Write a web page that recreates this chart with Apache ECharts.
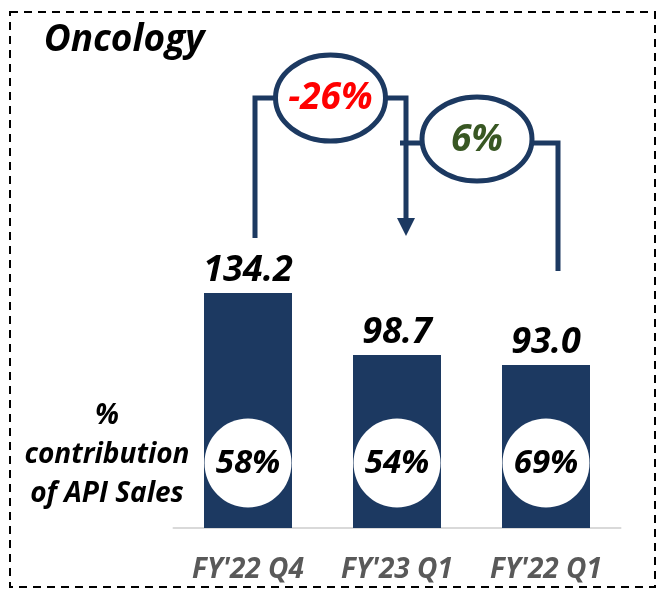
<!DOCTYPE html>
<html>
<head>
<meta charset="utf-8">
<script src="https://cdn.jsdelivr.net/npm/echarts@6/dist/echarts.min.js"></script>
<style>
html,body{margin:0;padding:0;background:#fff;}
#main{width:661px;height:590px;}
</style>
</head>
<body>
<div id="main"></div>
<script>
var categories = ["FY'22 Q4", "FY'23 Q1", "FY'22 Q1"];
var sales = [134.2, 98.7, 93.0];
var apiShare = ['58%', '54%', '69%'];
var changeLabels = ['-26%', '6%'];

var navy = '#1c3961';
var font = '"Open Sans", sans-serif';

var chart = echarts.init(document.getElementById('main'));
var option = {
    animation: false,
    grid: {left: 173.5, right: 40.5, top: 55, bottom: 62},
    xAxis: {
        type: 'category',
        data: categories,
        axisLine: {lineStyle: {color: '#d9d9d9', width: 2}},
        axisTick: {show: false},
        axisLabel: {
            margin: 28,
            color: '#595959',
            fontFamily: font,
            fontStyle: 'italic',
            fontWeight: 'bold',
            fontSize: 28
        }
    },
    yAxis: {
        type: 'value',
        min: 0,
        max: 270,
        show: false,
        splitLine: {show: false}
    },
    series: [{
        type: 'bar',
        data: sales,
        barWidth: 88,
        itemStyle: {color: navy},
        label: {
            show: true,
            position: 'top',
            distance: 4,
            formatter: function (p) { return p.value.toFixed(1); },
            color: '#000',
            fontFamily: font,
            fontStyle: 'italic',
            fontWeight: 'bold',
            fontSize: 36
        }
    }]
};
chart.setOption(option);

// annotations placed relative to the bars
var cx = categories.map(function (c) { return chart.convertToPixel({xAxisIndex: 0}, c); });
var txt = function (x, y, s, size, color) {
    return {
        type: 'text', x: x, y: y, z: 20,
        style: {
            text: s, fill: color, font: 'italic bold ' + size + 'px ' + font,
            align: 'center', verticalAlign: 'middle'
        }
    };
};
var g = [];
g.push({
    type: 'rect', z: 1,
    shape: {x: 10, y: 12, width: 645, height: 575},
    style: {fill: 'none', stroke: '#000', lineWidth: 2, lineDash: [8, 6]}
});
g.push(txt(124, 40, 'Oncology', 37, '#000'));
g.push(txt(107, 416, '%', 28, '#000'));
g.push(txt(107, 455, 'contribution', 28, '#000'));
g.push(txt(107, 494, 'of API Sales', 28, '#000'));

cx.forEach(function (x, i) {
    g.push({
        type: 'ellipse', z: 10,
        shape: {cx: x, cy: 463, rx: 43.5, ry: 44.5},
        style: {fill: '#fff'}
    });
    g.push(txt(x, 464, apiShare[i], 33, '#000'));
});

// -26% connector
var x1 = cx[0] + 7, x2 = cx[1] + 9, x3 = cx[2] + 12;
g.push({
    type: 'polyline', z: 5,
    shape: {points: [[x1, 238], [x1, 98], [x2, 98], [x2, 220]]},
    style: {stroke: navy, lineWidth: 5, fill: 'none'}
});
g.push({
    type: 'polygon', z: 5,
    shape: {points: [[x2 - 9, 218], [x2 + 9, 218], [x2, 236]]},
    style: {fill: navy}
});
g.push({
    type: 'ellipse', z: 8,
    shape: {cx: (x1 + x2) / 2, cy: 98, rx: 55, ry: 43},
    style: {fill: '#fff', stroke: navy, lineWidth: 5}
});
g.push(txt((x1 + x2) / 2, 98, changeLabels[0], 37, '#ff0000'));

// 6% connector
var e2 = (x2 + x3) / 2 - 5;
g.push({
    type: 'polyline', z: 5,
    shape: {points: [[x2 - 6, 143], [x3, 143], [x3, 271]]},
    style: {stroke: navy, lineWidth: 5, fill: 'none'}
});
g.push({
    type: 'ellipse', z: 8,
    shape: {cx: e2, cy: 139, rx: 55, ry: 42},
    style: {fill: '#fff', stroke: navy, lineWidth: 5}
});
g.push(txt(e2, 140, changeLabels[1], 37, '#385723'));

chart.setOption({graphic: {elements: g}});
</script>
</body>
</html>
